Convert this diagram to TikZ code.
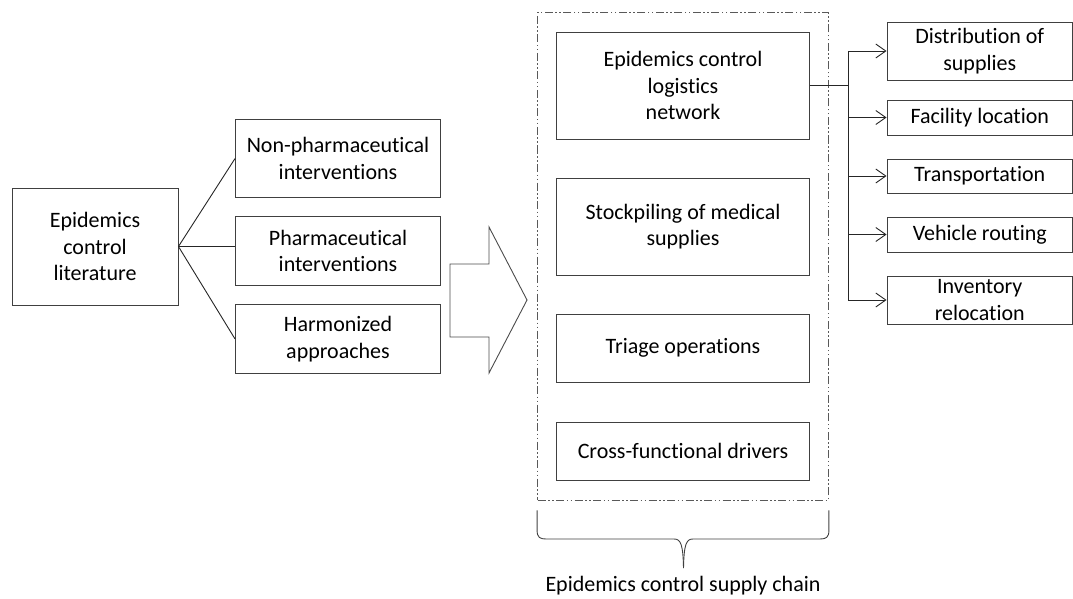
\documentclass[tikz,border=0pt]{standalone}
\usepackage{fontspec}
\setmainfont{Carlito}[Ligatures={NoCommon}]
\usetikzlibrary{arrows.meta}
\begin{document}
\begin{tikzpicture}[x=1pt,y=-1pt,
  txt/.style={font=\fontsize{22}{26.5}\selectfont},
  box/.style={txt, draw=black!75, line width=0.9pt, align=center, inner sep=0pt},
  link/.style={draw=black!85, line width=0.9pt},
  arr/.style={link, -{Straight Barb[length=10pt,width=14pt,line width=0.9pt]}},
  frame/.style={draw=black!65, line width=0.8pt, inner sep=0pt,
    dash pattern=on 8pt off 2.5pt on 1.5pt off 2.5pt on 1.5pt off 2.5pt},
]
\useasboundingbox (0,0) rectangle (1073,599);

% source and its three branches
\node[box, minimum width=166pt, minimum height=117pt] (lit) at (95,246.5) {Epidemics\\control\\literature};
\node[box, minimum width=205pt, minimum height=78pt] (npi) at (338,158.5) {Non-pharmaceutical\\interventions};
\node[box, minimum width=205pt, minimum height=69pt] (pi) at (338,251) {Pharmaceutical\\interventions};
\node[box, minimum width=205pt, minimum height=69pt] (ha) at (338,339) {Harmonized\\approaches};

\draw[link] (lit.east) -- (npi.west);
\draw[link] (lit.east) -- (pi.west |- lit.east);
\draw[link] (lit.east) -- (ha.west);

% block arrow
\draw[link, draw=black!70, fill=white] (450,264) -- (489,264) -- (489,227) -- (527,300)
  -- (489,373) -- (489,337) -- (450,337) -- cycle;

% supply chain frame and its parts
\node[frame, minimum width=291pt, minimum height=487.5pt] (chain) at (683,256.25) {};
\node[box, minimum width=253pt, minimum height=107pt] (logi) at (683,85.5) {Epidemics control\\logistics\\network};
\node[box, minimum width=253pt, minimum height=97pt] (stock) at (683,226.5) {Stockpiling of medical\\supplies};
\node[box, minimum width=253pt, minimum height=68pt] (triage) at (683,348) {Triage operations};
\node[box, minimum width=253pt, minimum height=58pt] (cross) at (683,451) {Cross-functional drivers};

% logistics sub-topics
\node[box, minimum width=185.5pt, minimum height=58pt] (dist) at (979.75,51) {Distribution of\\supplies};
\node[box, minimum width=185.5pt, minimum height=35pt] (fac) at (979.75,117.5) {Facility location};
\node[box, minimum width=185.5pt, minimum height=34pt] (trans) at (979.75,176) {Transportation};
\node[box, minimum width=185.5pt, minimum height=35pt] (veh) at (979.75,234.5) {Vehicle routing};
\node[box, minimum width=185.5pt, minimum height=48pt] (inv) at (979.75,300) {Inventory\\relocation};

\coordinate (trunk) at (848,85.5);
\draw[link] (logi.east) -- (trunk);
\draw[link] (trunk |- dist.west) -- (trunk |- inv.west);
\foreach \t in {dist,fac,trans,veh,inv}
  \draw[arr] (trunk |- \t.west) -- (\t.west);

% brace under the frame
\coordinate (tip) at (683.5,568);
\draw[link, draw=black!75] (chain.south west) ++(0,10) -- ++(0,20)
  .. controls +(0,7) and (540,539) .. (546,539) -- (674,539)
  .. controls (681,539) and (683,545) .. (tip);
\draw[link, draw=black!75] (chain.south east) ++(0,10) -- ++(0,20)
  .. controls +(0,7) and (826,539) .. (820,539) -- (693,539)
  .. controls (686,539) and (684,545) .. (tip);
\node[txt] (chainlbl) at (683,586) {Epidemics control supply chain};
\end{tikzpicture}
\end{document}
